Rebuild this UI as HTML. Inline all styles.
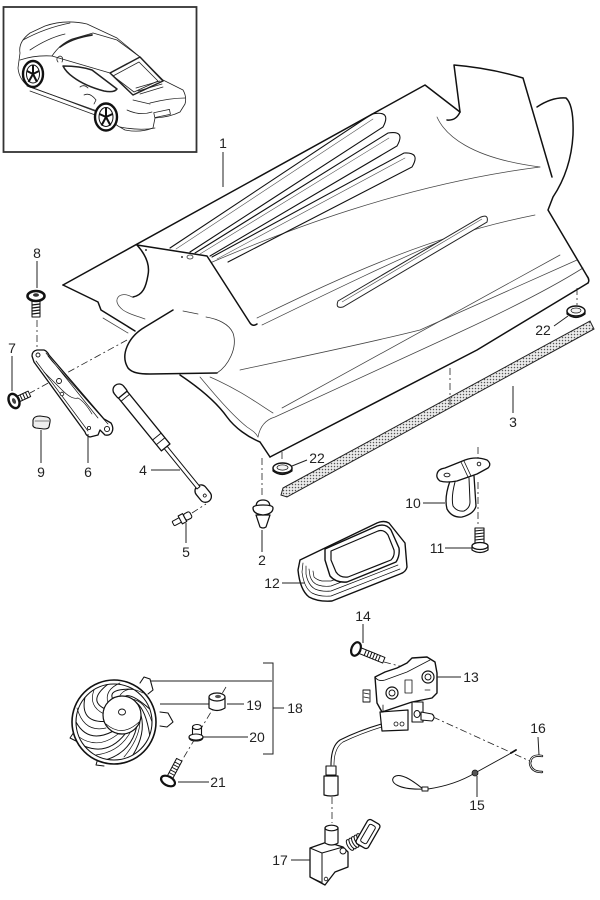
<!DOCTYPE html>
<html><head><meta charset="utf-8"><style>
html,body{margin:0;padding:0;background:#fff}
svg{display:block}
text{font-family:"Liberation Sans",Arial,sans-serif;font-size:14px;fill:#222}
</style></head><body>
<svg width="600" height="900" viewBox="0 0 600 900" xmlns="http://www.w3.org/2000/svg">
<defs>
<pattern id="dots" width="3" height="3" patternUnits="userSpaceOnUse"><rect width="3" height="3" fill="#ececec"/><circle cx="1.5" cy="1.5" r="0.75" fill="#555"/></pattern>
</defs>
<rect width="600" height="900" fill="#fff"/>

<!-- ===== Car inset ===== -->
<rect x="3.5" y="7" width="193" height="145" fill="none" stroke="#333" stroke-width="1.8"/>
<g fill="none" stroke="#222" stroke-width="0.8" stroke-linejoin="round" stroke-linecap="round">
<path d="M20,53 Q18,42 30,33 L45,26 Q65,19 87,24 L117,38 L140,57 L163,80 L183,90 Q187,97 185,104 L180,112 Q170,117 155,118 L153,128 Q140,133 125,130 L118,126 L100,113 L55,96 L28,86 Q19,79 18,68 Z"/>
<path d="M23,40 Q45,28 70,23 M30,50 Q48,38 65,34 M20,60 Q35,55 52,56"/>
<path d="M52,56 Q60,44 72,39 L93,33 L117,40 L140,57"/>
<path d="M60,47 Q72,38 92,35" stroke-width="1.7"/>
<path d="M52,56 L110,73"/>
<path d="M110,73 L140,57 L163,81 L133,95 Z" stroke-width="1.5"/>
<path d="M113,76 L139,62 L158,81 L134,92 Z"/>
<path d="M63,66 Q80,66 92,70 L117,89 Q114,93 104,91 Q85,86 73,77 Q66,72 63,66 Z" stroke-width="1.5"/>
<path d="M136,88 L160,81 M138,91 L162,84 M140,94 L163,87"/>
<path d="M150,103 Q170,98 185,98 M133,100 L150,104 M127,110 Q140,116 152,112"/>
<rect x="154" y="111" width="16" height="5" transform="rotate(-12 162 113)"/>
<path d="M120,127 Q140,131 155,128 M27,86 L100,112 M30,91 L98,116"/>
<path d="M80,87 Q84,84 88,88 M84,95 Q90,92 96,100 L94,104"/>
<path d="M58,62 Q55,58 60,56 Q64,57 62,62"/>
</g>
<g stroke="#111">
<ellipse cx="33" cy="74" rx="10" ry="13" fill="#fff" stroke-width="2.4"/>
<ellipse cx="33" cy="74" rx="6.5" ry="9" fill="#fff" stroke-width="1"/>
<path d="M33,74 L33,65.5 M33,74 L39,71 M33,74 L37,82 M33,74 L28.5,82 M33,74 L27,71" stroke-width="2"/>
<ellipse cx="106" cy="117" rx="11" ry="13.5" fill="#fff" stroke-width="2.4"/>
<ellipse cx="106" cy="117" rx="7" ry="9.5" fill="#fff" stroke-width="1"/>
<path d="M106,117 L106,108 M106,117 L112.5,114 M106,117 L110.5,125.5 M106,117 L101.5,125.5 M106,117 L99.5,114" stroke-width="2"/>
</g>

<!-- ===== Spoiler / deck lid ===== -->
<g fill="none" stroke="#444" stroke-width="0.75" stroke-linecap="round">
<path d="M210,263 C280,233 400,185 540,167"/>
<path d="M257,318 C330,283 420,238 535,215"/>
<path d="M262,325 C330,292 400,258 462,232"/>
<path d="M240,370 C300,357 360,345 420,330 L577,260"/>
<path d="M210,377 C240,390 260,405 273,413"/>
<path d="M282,408 L560,255"/>
<path d="M258,437 Q261,421 275,417 L460,332 Q540,295 583,268"/>
<path d="M200,377 C215,395 232,415 247,427 C253,431 256,433 258,437"/>
<path d="M437,117 C445,135 470,158 540,167"/>
<path d="M132,297 C120,290 110,300 123,310 C130,315 138,316 145,319"/>
<path d="M103,318 L128,333"/>
</g>
<path d="M338,301 L481,217 Q489,214 487,222 L343,307 Q335,309 338,301 Z" fill="#fff" stroke="#222" stroke-width="1"/>
<path d="M342,302 L482,219" stroke="#555" stroke-width="0.7" fill="none"/>
<g fill="none" stroke="#111" stroke-linecap="round">
<path d="M170,248 L372,114 Q392,110 383,127 L190,252" stroke-width="1.1"/>
<path d="M195,253 L388,133 Q406,130 397,146 L210,256" stroke-width="1.1"/>
<path d="M212,257 L404,153 Q421,152 412,167 L228,262" stroke-width="1.1"/>
<path d="M176,249 L373,119 M200,254 L389,138 M217,259 L405,158" stroke="#555" stroke-width="0.6"/>
</g>
<g fill="none" stroke="#111" stroke-width="1.5" stroke-linejoin="round" stroke-linecap="round">
<path d="M63,285 L425,85 L460,112"/>
<path d="M63,285 L98,302 L101,310 L135,331"/>
<path d="M460,112 L454,65 Q490,68 523,78 L552,177"/>
<path d="M537,107 Q552,97 566,98 Q574,105 573,135 Q571,170 553,197 L548,210 L587,276 Q590,280 588,283"/>
<path d="M270,457 L477,350 L588,283"/>
<path d="M180,375 C195,385 215,400 227,417 C235,428 248,437 260,442 L270,457"/>
<path d="M460,112 Q456,121 447,120"/>
</g>
<path d="M137,245 L207,255 L250,323 L200,318 L150,300 L133,297 C143,295 146,287 148,275 C150,265 146,255 137,245 Z" fill="#fff"/>
<g fill="none" stroke="#111" stroke-width="1.5" stroke-linejoin="round" stroke-linecap="round">
<path d="M137,245 L207,256 L250,323 Q253,327 257,324"/>
<path d="M137,245 C146,255 150,265 148,275 C146,287 143,295 133,297"/>
</g>
<circle cx="146" cy="250" r="1" fill="#333"/>
<circle cx="182" cy="257" r="1" fill="#333"/>
<ellipse cx="190" cy="257" rx="3" ry="2" fill="none" stroke="#333" stroke-width="0.8"/>
<path d="M173,310 L145,327 C128,337 120,355 128,368 C132,373 140,374 150,374 L217,373 C228,366 238,348 233,333 C228,322 210,312 173,310 Z" fill="#fff"/>
<g fill="none" stroke="#111" stroke-linecap="round" stroke-linejoin="round">
<path d="M173,310 L145,327 C128,337 120,355 128,368 C132,373 140,374 150,374 L217,373" stroke-width="1.5"/>
<path d="M217,373 C228,366 238,348 233,333 C229,324 218,319 206,317" stroke-width="0.8" stroke="#333"/>
<path d="M183,311 L198,314" stroke-width="0.8" stroke="#333"/>
</g>
<path d="M223,152 L223,187" stroke="#222" stroke-width="1"/>

<path d="M283,488 L590,321 L594,329 L287,497 L281,495 Z" fill="url(#dots)" stroke="#222" stroke-width="1"/>

<g fill="none" stroke="#222" stroke-width="0.8" stroke-dasharray="7 3 2 3">
<path d="M37,320 L37,352"/>
<path d="M127,340 L30,393"/>
<path d="M577,288 L577,305"/>
<path d="M450,368 L450,408"/>
<path d="M262,458 L262,498"/>
<path d="M282,452 L282,462"/>
<path d="M478,447 L478,460"/>
<path d="M478,482 L478,527"/>
<path d="M192,513 L206,504"/>
<path d="M226,687 L172,777"/>
<path d="M433,717 L532,762"/>
<path d="M332,797 L332,823"/>
<path d="M384,662 L403,667"/>
</g>

<g stroke="#111" stroke-linejoin="round" stroke-linecap="round">
<path d="M32,300 L32,317 L40,317 L40,300 Z" fill="#fff" stroke-width="1"/>
<path d="M32,305 L40,304 M32,308 L40,307 M32,311 L40,310 M32,314 L40,313" stroke-width="1.2"/>
<ellipse cx="36" cy="296" rx="8.5" ry="5" fill="#fff" stroke-width="2.6"/>
<ellipse cx="36" cy="295" rx="3" ry="1.8" fill="#333" stroke="none"/>
<g transform="translate(14,401) rotate(-25)">
<rect x="4" y="-3" width="13" height="6" fill="#fff" stroke-width="1"/>
<path d="M8,-3 L8,3 M11,-3 L11,3 M14,-3 L14,3" stroke-width="1"/>
<ellipse cx="0" cy="0" rx="5" ry="7.5" fill="#fff" stroke-width="2.4"/>
<ellipse cx="0" cy="0" rx="1.8" ry="3" fill="#444" stroke="none"/>
</g>
<path d="M33,420 Q34,416 40,416 L47,417 Q51,418 50,422 L49,427 Q48,429 44,429 L36,428 Q32,427 33,424 Z" fill="#eee" stroke-width="1.1"/>
<path d="M35,421 L49,421" stroke-width="0.6"/>
<path d="M32,356 Q32,351 37,350 L44,350 Q47,351 49,355 L104,419 L111,423 Q114,428 112,432 Q110,436 105,435 L100,430 L98,435 L90,437 Q86,436 85,432 L34,362 Z" fill="#fff" stroke-width="1.3"/>
<path d="M48,356 L52,361 L108,424 M36,361 L88,431 M46,353 L98,418" fill="none" stroke-width="0.7"/>
<path d="M44,372 Q55,383 62,390 Q72,400 78,398 Q85,402 92,414" fill="none" stroke-width="0.7"/>
<circle cx="38" cy="355" r="2" fill="#fff" stroke-width="0.9"/>
<circle cx="59" cy="381" r="2.5" fill="#fff" stroke-width="0.9"/>
<circle cx="62" cy="394" r="1.8" fill="#fff" stroke-width="0.8"/>
<circle cx="89" cy="428" r="1.6" fill="#fff" stroke-width="0.8"/>
<circle cx="107" cy="429" r="2.6" fill="#fff" stroke-width="0.9"/>
<g transform="translate(119,390) rotate(50.9)" fill="#fff">
<rect x="124" y="-6" width="19" height="12" rx="6" stroke-width="1.3"/>
<rect x="72" y="-1.9" width="54" height="3.8" stroke-width="1"/>
<rect x="-6" y="-6" width="16" height="12" rx="6" stroke-width="1.3"/>
<rect x="6" y="-5.5" width="68" height="11" stroke-width="1.3"/>
<path d="M10,-5.5 L10,5.5 M60,-5.5 L60,5.5 M66,-5.5 L66,5.5" fill="none" stroke-width="0.9"/>
<circle cx="136" cy="0" r="1.5" stroke-width="0.8"/>
</g>
<g transform="translate(182,519) rotate(-28)" fill="#fff">
<rect x="-10" y="-2.5" width="9" height="5" rx="1" stroke-width="1"/>
<rect x="-2" y="-4.5" width="5" height="9" stroke-width="1.1"/>
<rect x="3" y="-3.5" width="7" height="7" rx="2" stroke-width="1.1"/>
</g>
<path d="M256,507 Q256,500 263,500 Q270,500 270,507 Z" fill="#fff" stroke-width="1.2"/>
<path d="M256,515 L260,527 Q263,529 266,527 L270,515 Z" fill="#fff" stroke-width="1.2"/>
<path d="M253,508 Q253,514 263,515 Q273,514 273,508 Q273,505 263,505 Q253,505 253,508 Z" fill="#fff" stroke-width="1.3"/>
<path d="M273,468 L273,471 Q282,478 292,471 L292,468" fill="#888" stroke-width="1.2"/>
<ellipse cx="282.5" cy="468" rx="9.5" ry="5" fill="#fff" stroke-width="1.4"/>
<ellipse cx="282.5" cy="467.5" rx="5.5" ry="2.6" fill="#f4f4f4" stroke-width="0.7"/>
<path d="M567,311 L567,314 Q576,321 585,314 L585,311" fill="#888" stroke-width="1.2"/>
<ellipse cx="576" cy="311" rx="9" ry="5" fill="#fff" stroke-width="1.4"/>
<ellipse cx="576" cy="310.5" rx="5" ry="2.5" fill="#f4f4f4" stroke-width="0.7"/>
<path d="M450,481 Q444,498 447,509 Q452,518 462,517 Q474,514 476,506 L474,476" fill="#fff" stroke-width="1.3"/>
<path d="M455,482 Q451,497 453,506 Q457,512 464,511 Q470,508 470,502 L469,478" fill="none" stroke-width="1"/>
<path d="M437,474 Q438,469 445,468 L465,460 Q476,456 487,460 Q492,464 488,468 L477,474 L457,481 Q446,483 440,481 Q436,478 437,474 Z" fill="#fff" stroke-width="1.3"/>
<path d="M461,462 L468,477 M464,461 L471,476" fill="none" stroke-width="0.8"/>
<ellipse cx="447" cy="475" rx="3" ry="1.8" fill="#fff" stroke-width="0.9"/>
<circle cx="479" cy="464" r="1.8" fill="#fff" stroke-width="0.9"/>
<path d="M475,528 L475,543 L484,543 L484,528 Z" fill="#fff" stroke-width="1.1"/>
<path d="M475,531 L484,530 M475,534 L484,533 M475,537 L484,536 M475,540 L484,539" stroke-width="1"/>
<path d="M472,546 L472,550 Q480,555 488,550 L488,546" fill="#fff" stroke-width="1.2"/>
<ellipse cx="480" cy="546" rx="8" ry="3.5" fill="#fff" stroke-width="1.3"/>
<path d="M300,560 L377,523 Q384,520 389,523 L405,543 L407,567 Q406,572 400,574 L332,601 Q318,602 309,597 Q300,590 298,570 Z" fill="#fff" stroke-width="1.4"/>
<path d="M303,563 L302,572 Q304,588 312,593 Q320,597 331,596 L400,569" fill="none" stroke-width="0.7"/>
<path d="M306,566 L306,574 Q308,585 315,589 Q322,592 331,591 L398,565" fill="none" stroke-width="0.7"/>
<path d="M309,569 L310,576 Q312,583 318,585 Q324,587 331,586 L397,561" fill="none" stroke-width="0.7"/>
<path d="M313,571 L314,577 Q317,580 322,581 L331,581 L396,556" fill="none" stroke-width="0.7"/>
<path d="M325,549 L377,526 Q386,523 391,530 L399,548 Q400,556 396,562 L347,582 Q336,583 330,576 L325,560 Z" fill="#fff" stroke-width="1.4"/>
<path d="M331,551 L378,531 Q384,529 388,535 L394,550 Q395,556 391,560 L348,577 Q340,578 336,572 L331,560 Z" fill="#fff" stroke-width="1.2"/>
</g>

<g stroke="#111" stroke-linejoin="round" stroke-linecap="round" fill="none">
<path d="M140,683 L144,677 L150,679 L153,690 L148,694" fill="#fff" stroke-width="1.1"/>
<path d="M160,712 L168,713 L173,722 L167,727 L160,726" fill="#fff" stroke-width="1.1"/>
<path d="M74,732 L70,738 L78,742" fill="#fff" stroke-width="1"/>
<path d="M98,758 L96,765 L104,766" fill="#fff" stroke-width="1"/>
<circle cx="114" cy="722" r="42" fill="#fff" stroke-width="1.6"/>
<circle cx="114" cy="722" r="38" stroke-width="1.1"/>
<g stroke-width="1">
<path d="M141,715 Q145.9,733.6 133,754.9"/>
<path d="M136.6,727.2 Q131,751.4 107.4,759.4"/>
<path d="M125.3,733.7 Q108.1,755.5 84.9,746.4"/>
<path d="M112.5,731.5 Q88,743.9 76,722"/>
<path d="M104.1,721.5 Q80,722 84.9,697.6"/>
<path d="M104.1,708.5 Q88,700.1 107.4,684.6"/>
<path d="M112.5,698.5 Q108.1,688.5 133,689.1"/>
<path d="M125.3,696.3 Q131,692.6 149.7,709"/>
<path d="M136.6,702.8 Q145.9,710.4 149.7,735"/>
</g>
<g stroke-width="0.7">
<path d="M140,720 Q140,738 124,757"/>
<path d="M131,731 Q120,752 96,755"/>
<path d="M118,734 Q98,750 79,737"/>
<path d="M106,728 Q84,733 77,708"/>
<path d="M104,714 Q88,706 94,690"/>
<path d="M108,703 Q104,690 120,683"/>
<path d="M119,697 Q126,684 143,693"/>
<path d="M131,699 Q145,700 152,722"/>
</g>
<circle cx="122" cy="715" r="19" fill="#fff" stroke-width="1.2"/>
<path d="M106,724 Q122,738 139,722" stroke-width="0.7"/>
<ellipse cx="122" cy="712" rx="3.5" ry="3" stroke-width="0.9"/>
</g>
<g fill="none" stroke="#222" stroke-width="1">
<path d="M263,663 L273,663 L273,754 L263,754 M273,708 L284,708"/>
<path d="M150,681 L272,681 M160,704 L209,704"/>
<path d="M227,704 L244,704 M202,737 L248,737 M178,782 L209,782"/>
</g>
<g stroke="#111" stroke-linejoin="round">
<path d="M209,697 L209,708 Q217,713 225,708 L225,697" fill="#fff" stroke-width="1.2"/>
<ellipse cx="217" cy="697" rx="8" ry="4" fill="#fff" stroke-width="1.2"/>
<ellipse cx="218" cy="696.5" rx="3" ry="1.6" fill="#555" stroke="none"/>
<path d="M192.5,727 L192.5,735 L201.5,735 L201.5,727" fill="#fff" stroke-width="1.1"/>
<ellipse cx="197" cy="727" rx="4.5" ry="2.5" fill="#fff" stroke-width="1.1"/>
<path d="M189,737 Q189,741 196,741 Q203,741 203,737" fill="#fff" stroke-width="1.1"/>
<ellipse cx="196" cy="737" rx="7" ry="3" fill="#fff" stroke-width="1.1"/>
<g transform="translate(168,781) rotate(-62)">
<rect x="4" y="-3" width="20" height="6" fill="#fff" stroke-width="1"/>
<path d="M8,-3 L8,3 M11,-3 L11,3 M14,-3 L14,3 M17,-3 L17,3 M20,-3 L20,3" stroke-width="0.9"/>
<ellipse cx="0" cy="0" rx="4.5" ry="7.5" fill="#fff" stroke-width="2.2"/>
</g>
</g>

<g stroke="#111" stroke-linejoin="round" stroke-linecap="round">
<g transform="translate(356,649) rotate(22)">
<rect x="4" y="-3" width="26" height="6" fill="#fff" stroke-width="1"/>
<path d="M10,-3 L10,3 M13,-3 L13,3 M16,-3 L16,3 M19,-3 L19,3 M22,-3 L22,3 M25,-3 L25,3" stroke-width="1"/>
<ellipse cx="0" cy="0" rx="4.5" ry="7" fill="#fff" stroke-width="2.2"/>
</g>
<path d="M385,723 Q360,730 340,740 Q331,746 331,765" fill="none" stroke-width="1.1"/>
<path d="M385,726 Q362,733 343,742 Q334,748 334,765" fill="none" stroke-width="0.7"/>
<path d="M380,712 L408,710 L408,730 L382,731 Z" fill="#fff" stroke-width="1.2"/>
<circle cx="396" cy="724" r="2" fill="#fff" stroke-width="0.8"/>
<circle cx="402" cy="724" r="2" fill="#fff" stroke-width="0.8"/>
<path d="M412,702 L423,702 L423,722 L412,722 Z" fill="#fff" stroke-width="1.1"/>
<path d="M421,712 L432,714 Q436,717 432,721 L421,720 Z" fill="#fff" stroke-width="1.1"/>
<ellipse cx="417" cy="714" rx="3" ry="3.5" fill="#fff" stroke-width="1"/>
<path d="M363,690 L370,690 L370,702 L363,702 Z" fill="#fff" stroke-width="0.9"/>
<path d="M364,693 L369,694 M364,697 L369,698" stroke-width="0.8"/>
<path d="M375,677 L385,672 L397,668 L407,663 L412,658 L427,657 L435,662 L437,673 L437,693 L432,698 L412,702 L382,712 L377,703 Z" fill="#fff" stroke-width="1.4"/>
<path d="M375,677 Q378,682 385,680 L407,672 L430,660" fill="none" stroke-width="0.8"/>
<path d="M405,680 L412,680 L412,693 L405,693 Z" fill="none" stroke-width="0.8"/>
<path d="M383,705 L383,712 M425,690 L430,690" stroke-width="0.8"/>
<circle cx="392" cy="693" r="6" fill="#fff" stroke-width="1.2"/>
<circle cx="392" cy="693" r="3" fill="#fff" stroke-width="0.9"/>
<circle cx="428" cy="677" r="6" fill="#fff" stroke-width="1.2"/>
<circle cx="428" cy="677" r="3" fill="#fff" stroke-width="0.9"/>
<path d="M326,766 L336,766 L336,775 L326,775 Z" fill="#fff" stroke-width="1.1"/>
<path d="M324,776 L338,776 L338,795 Q331,797 324,795 Z" fill="#fff" stroke-width="1.2"/>
<path d="M423,789 C412,780 400,772 394,777 C389,782 398,790 423,789" fill="none" stroke-width="1"/>
<rect x="422" y="787" width="6" height="4" fill="#fff" stroke-width="0.9"/>
<path d="M428,789 Q455,785 475,773 Q495,762 513,752" fill="none" stroke-width="0.9"/>
<circle cx="475" cy="773" r="3" fill="#555" stroke-width="0.8"/>
<path d="M511,753 L516,750" stroke-width="1.8"/>
<path d="M542,756 Q531,754 530,763 Q531,772 542,772" fill="none" stroke-width="2.4"/>
<path d="M542,756 Q531,754 530,763 Q531,772 542,772" fill="none" stroke="#fff" stroke-width="0.8"/>
<path d="M310,848 L327,842 L343,847 L348,852 L348,867 L335,872 L325,885 L310,877 Z" fill="#fff" stroke-width="1.3"/>
<path d="M310,848 L322,853 L343,847 M322,853 L322,883" fill="none" stroke-width="1"/>
<path d="M312,878 L321,882" stroke-width="0.7"/>
<circle cx="343" cy="851" r="3" fill="#fff" stroke-width="0.9"/>
<circle cx="326" cy="879" r="1.8" fill="#fff" stroke-width="0.8"/>
<path d="M325,828 L325,843 Q331.5,847 338,843 L338,828" fill="#fff" stroke-width="1.2"/>
<ellipse cx="331.5" cy="828" rx="6.5" ry="2.8" fill="#fff" stroke-width="1.2"/>
<g transform="translate(350,845) rotate(-30)" fill="#fff" stroke-width="1">
<ellipse cx="0" cy="0" rx="2.5" ry="6"/>
<ellipse cx="3" cy="0" rx="2.5" ry="6"/>
<ellipse cx="6" cy="0" rx="2.5" ry="6"/>
<ellipse cx="9" cy="0" rx="2.5" ry="6"/>
<ellipse cx="12" cy="0" rx="2.5" ry="6"/>
</g>
<g transform="translate(368,834) rotate(30)">
<rect x="-7" y="-14" width="14" height="28" rx="3" fill="#fff" stroke-width="1.3"/>
<rect x="-3.5" y="-10" width="7" height="20" rx="2" fill="#fff" stroke-width="1"/>
</g>
</g>
<g fill="none" stroke="#222" stroke-width="1">
<path d="M363,624 L363,643 M437,677 L461,677 M538,737 L539,755 M477,776 L477,797 M291,860 L310,860"/>
</g>

<g fill="none" stroke="#222" stroke-width="1">
<path d="M37,261 L37,288"/>
<path d="M12,356 L12,391"/>
<path d="M41,430 L41,463"/>
<path d="M88,434 L88,463"/>
<path d="M151,470 L180,470"/>
<path d="M186,523 L186,543"/>
<path d="M262,530 L262,552"/>
<path d="M292,466 L307,460"/>
<path d="M554,326 L568,316"/>
<path d="M513,386 L513,413"/>
<path d="M423,503 L445,503"/>
<path d="M445,548 L472,548"/>
<path d="M282,583 L305,583"/>
</g>

<g text-anchor="middle">
<text x="223" y="148">1</text>
<text x="37" y="258">8</text>
<text x="12" y="353">7</text>
<text x="41" y="477">9</text>
<text x="88" y="477">6</text>
<text x="143" y="475">4</text>
<text x="186" y="557">5</text>
<text x="262" y="565">2</text>
<text x="317" y="463">22</text>
<text x="543" y="335">22</text>
<text x="513" y="427">3</text>
<text x="413" y="508">10</text>
<text x="437" y="553">11</text>
<text x="272" y="588">12</text>
<text x="363" y="621">14</text>
<text x="471" y="682">13</text>
<text x="538" y="733">16</text>
<text x="477" y="810">15</text>
<text x="280" y="865">17</text>
<text x="295" y="713">18</text>
<text x="254" y="710">19</text>
<text x="257" y="742">20</text>
<text x="218" y="787">21</text>
</g>
</svg>
</body></html>
